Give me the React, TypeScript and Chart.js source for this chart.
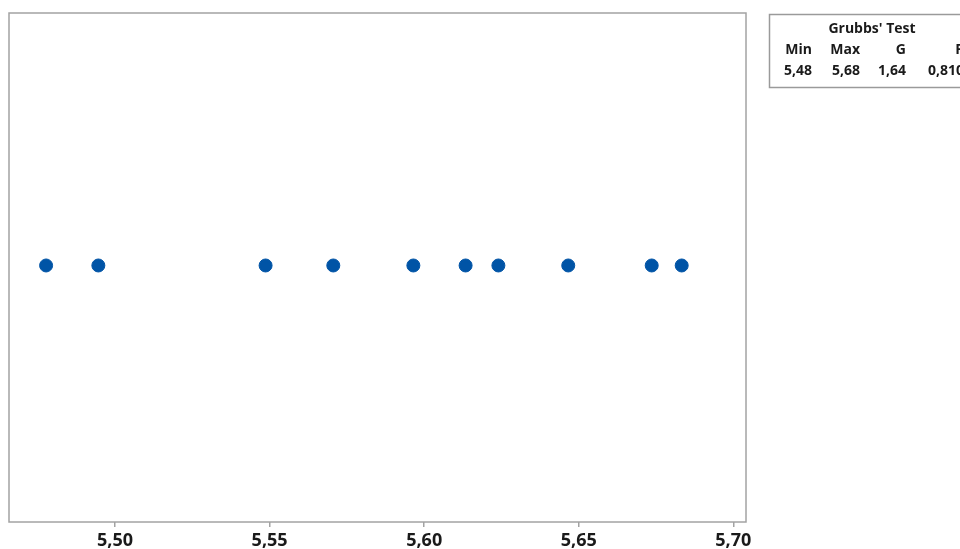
import React, { useEffect, useRef } from "react";
import { Chart, registerables } from "chart.js";

Chart.register(...registerables);

const values = [5.4777, 5.4946, 5.5487, 5.5706, 5.5965, 5.6134, 5.624, 5.6466, 5.6736, 5.6833];
const tickValues = [5.5, 5.55, 5.6, 5.65, 5.7];
const tableTitle = "Grubbs' Test";
const tableHeaders = ["Min", "Max", "G", "P"];
const tableValues = ["5,48", "5,68", "1,64", "0,810"];

const FONT = "'Open Sans', 'DejaVu Sans', sans-serif";
const GRAY = "#a3a3a3";

const framePlugin = {
  id: "frame",
  afterDraw(chart: any) {
    const { ctx, chartArea } = chart;
    ctx.save();
    ctx.strokeStyle = GRAY;
    ctx.lineWidth = 1.5;
    ctx.strokeRect(chartArea.left, chartArea.top, chartArea.right - chartArea.left, chartArea.bottom - chartArea.top);

    // Grubbs' table
    ctx.strokeStyle = "#9a9a9a";
    ctx.lineWidth = 1.5;
    ctx.strokeRect(769.5, 14.5, 220, 73);
    ctx.fillStyle = "#1a1a1a";
    ctx.font = `bold 14px ${FONT}`;
    ctx.textBaseline = "middle";
    ctx.textAlign = "center";
    ctx.fillText(tableTitle, 872, 29);
    const rights = [812, 860, 906, 964];
    tableHeaders.forEach((h, i) => {
      ctx.textAlign = "right";
      ctx.fillText(h, rights[i], 50);
    });
    tableValues.forEach((v, i) => {
      ctx.textAlign = "right";
      ctx.fillText(v, rights[i], 71);
    });
    ctx.restore();
  },
};

export default function App() {
  const ref = useRef<HTMLCanvasElement>(null);
  useEffect(() => {
    if (!ref.current) return;
    const chart = new Chart(ref.current, {
      type: "scatter",
      data: {
        datasets: [
          {
            data: values.map((v) => ({ x: v, y: 0 })),
            backgroundColor: "#0054a6",
            borderColor: "#0054a6",
            pointRadius: 6.5,
            pointHoverRadius: 6.5,
          },
        ],
      },
      options: {
        animation: false,
        responsive: false,
        maintainAspectRatio: false,
        layout: { padding: { left: 9, top: 13, right: 214, bottom: 0 } },
        plugins: { legend: { display: false }, tooltip: { enabled: false } },
        scales: {
          x: {
            type: "linear",
            min: 5.4657,
            max: 5.7041,
            afterBuildTicks: (scale: any) => {
              scale.ticks = tickValues.map((v) => ({ value: v }));
            },
            afterFit: (scale: any) => {
              scale.height = 27;
            },
            grid: { display: true, drawOnChartArea: false, drawTicks: true, tickLength: 5, color: GRAY, lineWidth: 1.5 },
            border: { display: false },
            ticks: {
              color: "#1a1a1a",
              padding: 3,
              maxRotation: 0,
              font: { family: FONT, size: 18, weight: "bold" as any },
              callback: (v: any) => Number(v).toFixed(2).replace(".", ","),
            },
          },
          y: { display: false, min: -1.016, max: 1 },
        },
      },
      plugins: [framePlugin],
    });
    return () => chart.destroy();
  }, []);
  return (
    <div style={{ position: "fixed", left: 0, top: 0, width: 960, height: 549, background: "#fff" }}>
      <canvas ref={ref} width={960} height={549} style={{ display: "block" }} />
    </div>
  );
}
